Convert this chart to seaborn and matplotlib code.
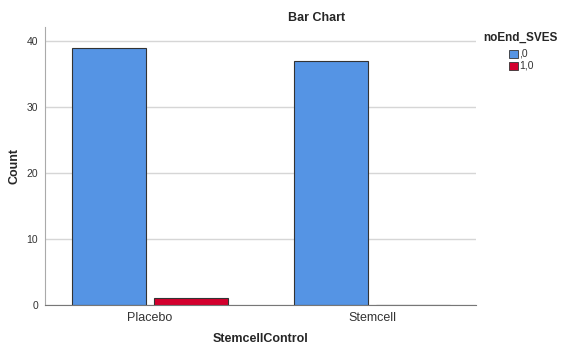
import pandas as pd
import seaborn as sns
import matplotlib.pyplot as plt

# counts
groups = ["Placebo", "Placebo", "Stemcell", "Stemcell"]
sves = [",0", "1,0", ",0", "1,0"]
counts = [39, 1, 37, 0]

df = pd.DataFrame({"StemcellControl": groups, "noEnd_SVES": sves, "Count": counts})

sns.set_style("white")
plt.rcParams["font.family"] = ["Liberation Sans", "DejaVu Sans"]

fig = plt.figure(figsize=(5.61, 3.47), dpi=100)
ax = fig.add_axes([0.080, 0.121, 0.769, 0.801])

palette = {",0": "#5594E4", "1,0": "#D3002D"}
sns.barplot(data=df, x="StemcellControl", y="Count", hue="noEnd_SVES",
            palette=palette, width=0.74, gap=0.1, edgecolor="#333333",
            linewidth=0.8, saturation=1, ax=ax, legend=False)

ax.set_xlim(-0.473, 1.468)
ax.set_ylim(0, 42.1)
ax.set_yticks([0, 10, 20, 30, 40])
ax.yaxis.grid(True, color="#d6d6d6", linewidth=1)
ax.set_axisbelow(True)
for s in ["top", "right"]:
    ax.spines[s].set_visible(False)
ax.spines["left"].set_color("#aaaaaa")
ax.spines["bottom"].set_color("#777777")
ax.tick_params(axis="y", length=3, color="#aaaaaa", labelsize=7.5, pad=2,
               labelcolor="#333333")
ax.tick_params(axis="x", length=0, labelsize=9, labelcolor="#333333", pad=5)

ax.set_xlabel("StemcellControl", fontsize=9, fontweight="bold")
ax.set_ylabel("Count", fontsize=9, fontweight="bold")
ax.xaxis.set_label_coords(0.5, -0.122)
ax.yaxis.set_label_coords(-0.071, 0.5)
ax.xaxis.label.set_va("center")
ax.yaxis.label.set_va("center")

fig.text(317 / 561, 1 - 18 / 347, "Bar Chart", ha="center", va="center",
         fontsize=9, fontweight="bold")

# legend drawn by hand like the SPSS one
fig.text(483 / 561, 1 - 38 / 347, "noEnd_SVES", ha="left", va="center",
         fontsize=8.5, fontweight="bold")
for i, lab in enumerate([",0", "1,0"]):
    yc = 1 - (54 + 12 * i) / 347
    fig.patches.append(plt.Rectangle((509 / 561, yc - 4 / 347), 9 / 561, 8 / 347,
                                     facecolor=palette[lab], edgecolor="#333333",
                                     linewidth=0.6, transform=fig.transFigure))
    fig.text(519 / 561, yc, lab, ha="left", va="center", fontsize=7.5, color="#333333")

fig.savefig("out.png", dpi=100)
